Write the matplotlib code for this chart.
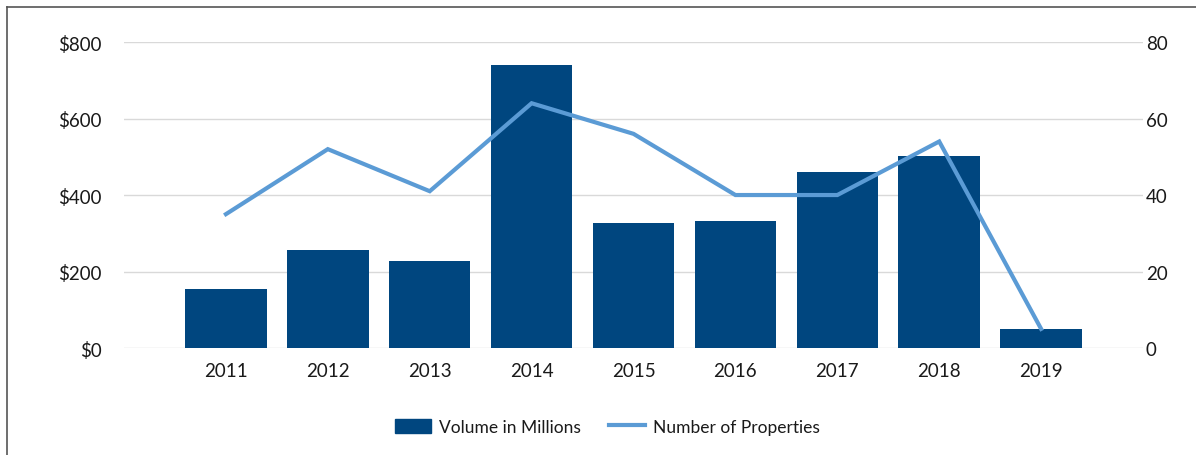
import matplotlib
matplotlib.use("Agg")
import matplotlib.pyplot as plt
from matplotlib.lines import Line2D
from matplotlib.patches import Patch

years = ["2011", "2012", "2013", "2014", "2015", "2016", "2017", "2018", "2019"]
volume = [154, 256, 227, 740, 327, 332, 460, 502, 50]
properties = [35, 52, 41, 64, 56, 40, 40, 54, 5]
left_ticks = [0, 200, 400, 600, 800]
left_labels = ["$0", "$200", "$400", "$600", "$800"]
right_ticks = [0, 20, 40, 60, 80]

BAR = "#00467F"
LINE = "#5B9BD5"
GRID = "#D9D9D9"
TXT = "#1A1A1A"

plt.rcParams['font.family'] = ['Lato', 'DejaVu Sans']

fig = plt.figure(figsize=(11.96, 4.56), dpi=100)
ax = fig.add_axes([0.1037, 0.2346, 0.852, 0.671])
x = list(range(len(years)))
ax.bar(x, volume, width=0.8, color=BAR, zorder=2)
ax.set_xlim(-1, len(years))
ax.set_ylim(0, 800)
ax.set_yticks(left_ticks)
ax.set_yticklabels(left_labels)
ax.set_xticks(x)
ax.set_xticklabels(years)
ax.grid(axis='y', color=GRID, linewidth=1, zorder=0)
for s in ax.spines.values():
    s.set_visible(False)
ax.tick_params(axis='both', length=0, labelsize=13.5, colors=TXT)
ax.tick_params(axis='y', pad=16)
ax.tick_params(axis='x', pad=10)

ax2 = ax.twinx()
ax2.plot(x, properties, color=LINE, linewidth=3, zorder=3, solid_joinstyle='miter')
ax2.set_ylim(0, 80)
ax2.set_yticks(right_ticks)
for s in ax2.spines.values():
    s.set_visible(False)
ax2.tick_params(axis='y', length=0, labelsize=13.5, colors=TXT, pad=2)

handles = [Patch(color=BAR, label="Volume in Millions"),
           Line2D([0], [0], color=LINE, linewidth=3, label="Number of Properties")]
fig.legend(handles=handles, loc='center', bbox_to_anchor=(0.508, 0.062), ncol=2,
           frameon=False, fontsize=12.5, handlelength=2.1, handleheight=0.9,
           columnspacing=1.6, handletextpad=0.45, labelcolor=TXT)

# figure frame lines (top and left)
fig.add_artist(Line2D([7/1196, 1], [1 - 8/456, 1 - 8/456], transform=fig.transFigure,
                      color="#555555", linewidth=1.2))
fig.add_artist(Line2D([7/1196, 7/1196], [0, 1 - 8/456], transform=fig.transFigure,
                      color="#555555", linewidth=1.2))

fig.savefig("out.png", dpi=100)
